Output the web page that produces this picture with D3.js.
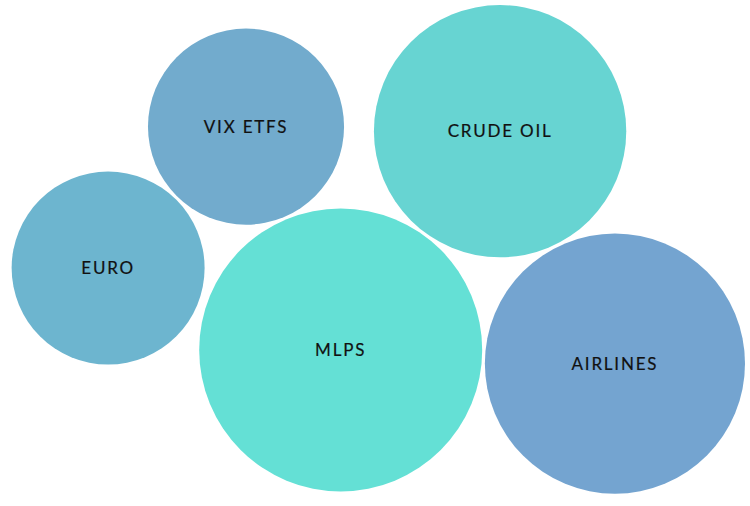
<!DOCTYPE html>
<html>
<head>
<meta charset="utf-8">
<style>
  body { margin: 0; background: #fff; }
  .label { font-family: Lato, "Open Sans", sans-serif; font-size: 17px; letter-spacing: 1.8px; fill: #111; stroke: #111; stroke-width: 0.2px; }
</style>
</head>
<body>
<div class="grafico"></div>
<script src="https://cdn.jsdelivr.net/npm/d3@7"></script>
<script>
var width = 750, height = 506, pad = 5;

// bubble data (order also seeds the force layout)
var names = ["EURO", "MLPS", "CRUDE OIL", "AIRLINES", "VIX ETFS"];
var values = [9.3, 20.0, 15.9, 16.9, 9.6];
// left-to-right order of the bubbles
var xOrder = ["EURO", "VIX ETFS", "MLPS", "CRUDE OIL", "AIRLINES"];
var colors = ["#6db5cf", "#64e0d5", "#67d4d2", "#74a4d0", "#72abcd"];

var radius = d3.scaleSqrt().domain([0, d3.max(values)]).range([0, 141.5]);
var color = d3.scaleOrdinal().domain(names).range(colors);
var xPos = d3.scalePoint().domain(xOrder).range([0, width]).padding(0.9);

var nodes = names.map(function (n, i) {
  return { name: n, value: values[i], r: radius(values[i]) };
});

var svg = d3.select(".grafico").append("svg")
  .attr("width", width)
  .attr("height", height);

// run the force layout to the end before drawing
var sim = d3.forceSimulation(nodes)
  .force("x", d3.forceX(d => xPos(d.name)).strength(0.1))
  .force("y", d3.forceY(height / 2).strength(0.02))
  .force("collide", d3.forceCollide(d => d.r + 1.5).iterations(4))
  .stop();

for (var i = 0; i < 400; i++) {
  sim.tick();
  nodes.forEach(function (d) {
    d.x = Math.max(d.r + pad, Math.min(width - d.r - pad, d.x));
    d.y = Math.max(d.r + pad, Math.min(height - d.r - pad, d.y));
  });
}

var node = svg.append("g").selectAll(".node")
  .data(nodes)
  .enter().append("g")
  .attr("class", "node")
  .attr("transform", d => "translate(" + d.x + "," + d.y + ")");

node.append("circle")
  .attr("r", d => d.r)
  .style("fill", d => color(d.name));

node.append("text")
  .attr("class", "label")
  .attr("text-anchor", "middle")
  .attr("dy", ".35em")
  .text(d => d.name);
</script>
</body>
</html>
